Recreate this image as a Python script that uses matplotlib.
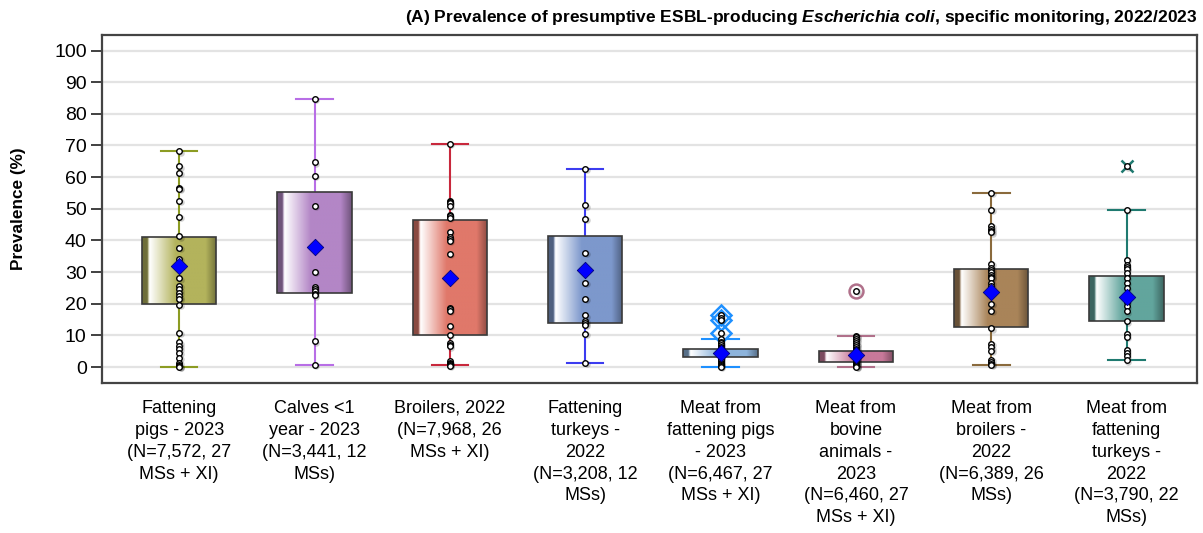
import numpy as np
import matplotlib.pyplot as plt
import matplotlib.colors as mcolors

plt.rcParams['font.family'] = ['Liberation Sans', 'DejaVu Sans']
plt.rcParams['mathtext.fontset'] = 'custom'
plt.rcParams['mathtext.it'] = 'Liberation Sans:italic:bold'
plt.rcParams['mathtext.rm'] = 'Liberation Sans:bold'

labels = [
    'Fattening\npigs - 2023\n(N=7,572, 27\nMSs + XI)',
    'Calves <1\nyear - 2023\n(N=3,441, 12\nMSs)',
    'Broilers, 2022\n(N=7,968, 26\nMSs + XI)',
    'Fattening\nturkeys -\n2022\n(N=3,208, 12\nMSs)',
    'Meat from\nfattening pigs\n- 2023\n(N=6,467, 27\nMSs + XI)',
    'Meat from\nbovine\nanimals -\n2023\n(N=6,460, 27\nMSs + XI)',
    'Meat from\nbroilers -\n2022\n(N=6,389, 26\nMSs)',
    'Meat from\nfattening\nturkeys -\n2022\n(N=3,790, 22\nMSs)',
]

# box statistics (prevalence, %)
q1 = [20.0, 23.4, 10.1, 13.9, 3.1, 1.5, 12.5, 14.6]
q3 = [41.2, 55.4, 46.5, 41.3, 5.7, 5.1, 30.9, 28.8]
whislo = [0.0, 0.7, 0.7, 1.3, 0.1, 0.1, 0.7, 2.1]
whishi = [68.1, 84.7, 70.5, 62.6, 8.8, 9.9, 55.1, 49.6]
means = [31.8, 37.9, 28.0, 30.5, 4.3, 3.9, 23.7, 22.0]
fliers = [[], [], [], [], [10.7, 14.8, 16.4], [24.1], [], [63.4]]

# country-level prevalences
pigs_pts = [68.1, 63.4, 61.3, 56.5, 56.2, 52.6, 47.4, 41.3, 37.6, 34.1, 32.5,
            28.0, 25.7, 24.5, 23.4, 22.3, 21.5, 19.7, 10.7, 7.8, 6.7, 5.7,
            4.4, 2.8, 1.3, 0.5, 0.2, 0.0]
calves_pts = [84.7, 64.7, 60.4, 50.9, 30.0, 25.3, 24.5, 23.9, 23.0, 22.6,
              8.1, 0.7]
broilers_pts = [70.5, 52.6, 52.0, 51.8, 50.9, 48.0, 47.8, 47.1, 42.7, 41.0,
                40.4, 39.8, 35.7, 18.8, 18.3, 17.8, 13.1, 10.1, 7.6, 7.0, 6.5,
                1.8, 1.3, 1.1, 0.9, 0.7, 0.4]
turkeys_pts = [62.6, 51.1, 46.9, 36.0, 26.6, 21.5, 16.3, 14.5, 13.9, 13.3,
               10.5, 1.3]
meat_pigs_pts = [16.4, 15.6, 14.8, 10.7, 8.8, 8.0, 7.5, 6.9, 6.4, 6.0, 5.7,
                 5.4, 5.1, 4.8, 4.5, 4.2, 3.9, 3.6, 3.3, 3.1, 2.7, 2.3, 1.8,
                 1.4, 1.0, 0.6, 0.3, 0.1]
meat_bovine_pts = [24.1, 9.9, 9.5, 8.9, 8.2, 7.5, 6.9, 6.3, 5.8, 5.3, 5.0,
                   4.6, 4.2, 3.9, 3.6, 3.3, 3.0, 2.7, 2.4, 2.1, 1.8, 1.5, 1.3,
                   1.0, 0.7, 0.4, 0.2, 0.0]
meat_broilers_pts = [55.1, 49.6, 44.6, 43.6, 43.0, 42.5, 32.5, 31.2, 30.5,
                     29.9, 29.0, 28.4, 28.1, 26.5, 25.5, 24.5, 19.9, 17.8,
                     12.2, 7.2, 6.2, 5.2, 2.3, 1.5, 1.0, 0.7]
meat_turkeys_pts = [63.4, 49.6, 33.9, 32.3, 31.5, 30.9, 29.7, 28.1, 26.7,
                    25.0, 22.3, 21.3, 20.5, 19.2, 17.6, 14.4, 10.5, 9.5, 5.5,
                    4.4, 3.5, 2.1]
points = [pigs_pts, calves_pts, broilers_pts, turkeys_pts, meat_pigs_pts,
          meat_bovine_pts, meat_broilers_pts, meat_turkeys_pts]

fill_colors = ['#b3b35c', '#b386c6', '#e0786a', '#7d98cc',
               '#8db4dc', '#c8799a', '#a98459', '#62a59d']
line_colors = ['#8c9c23', '#b86ee6', '#c8283c', '#3c3cf0',
               '#1e90ff', '#b0708a', '#8a6a3c', '#1f7a70']
flier_markers = ['o', 'o', 'o', 'o', 'D', 'o', 'o', 'x']

fig = plt.figure(figsize=(12.03, 5.33), dpi=100)
ax = fig.add_axes([0.0848, 0.2814, 0.9102, 0.6529])

pos = np.arange(1, len(labels) + 1)
width = 0.55


def gradient_image(color):
    base = np.array(mcolors.to_rgb(color))
    t = np.linspace(0, 1, 200)
    white = np.interp(t, [0, 0.07, 0.1, 0.45, 1.0], [0, 0, 1, 0, 0])
    dark = np.interp(t, [0, 0.07, 0.1, 0.85, 1.0], [0.62, 0.62, 1, 1, 0.62])
    rgb = (base[None, :] * dark[:, None]) * (1 - white[:, None]) + white[:, None]
    return rgb[None, :, :]


for i in range(len(labels)):
    stats = [dict(med=q1[i], q1=q1[i], q3=q3[i], whislo=whislo[i],
                  whishi=whishi[i], mean=means[i], fliers=fliers[i])]
    fm = flier_markers[i]
    bp = ax.bxp(stats, positions=[pos[i]], widths=width, capwidths=0.27,
                patch_artist=True, showmeans=False, showfliers=True,
                boxprops=dict(facecolor='none', edgecolor='#3a3a3a', lw=1.2),
                whiskerprops=dict(color=line_colors[i], lw=1.5),
                capprops=dict(color=line_colors[i], lw=1.5),
                medianprops=dict(lw=0),
                flierprops=dict(marker=fm, markerfacecolor='none',
                                markeredgecolor=line_colors[i],
                                markersize=10 if fm != 'x' else 9,
                                markeredgewidth=1.8),
                zorder=2)
    box = bp['boxes'][0]
    box.set_zorder(3)
    im = ax.imshow(gradient_image(fill_colors[i]), aspect='auto',
                   extent=(pos[i] - width / 2, pos[i] + width / 2, q1[i], q3[i]),
                   zorder=2.5, interpolation='bilinear')
    im.set_clip_path(box)

    ax.scatter(np.full(len(points[i]), pos[i]) + 0.012, np.array(points[i]) - 0.4,
               s=22, color='#000000', alpha=0.18, lw=0, zorder=3.5)
    ax.scatter(np.full(len(points[i]), pos[i]), points[i], s=16,
               facecolor='white', edgecolor='black', lw=1.0, zorder=4)
    ax.scatter([pos[i]], [means[i]], marker='D', s=70, color='#0000ff',
               edgecolor='#000080', lw=0.6, zorder=5)

ax.set_xlim(0.43, 8.52)
ax.set_ylim(-5.06, 104.9)
ax.set_yticks(np.arange(0, 101, 10))
ax.set_xticks(pos)
ax.set_xticklabels(labels, fontsize=13, linespacing=1.38, va='top')
ax.tick_params(axis='x', length=0, pad=12)
ax.tick_params(axis='y', labelsize=14, length=8, width=1.3, color='#333333',
               pad=3)
ax.yaxis.grid(True, color='#e3e3e3', lw=1.6)
ax.set_axisbelow(True)
for sp in ax.spines.values():
    sp.set_color('#444444')
    sp.set_linewidth(1.6)

ax.set_ylabel('Prevalence (%)', fontsize=12.4, fontweight='bold')
ax.yaxis.set_label_coords(-0.069, 0.5)

fig.text(0.995, 0.967,
         r'(A) Prevalence of presumptive ESBL-producing '
         r'$\mathit{Escherichia\ coli}$, specific monitoring, 2022/2023',
         ha='right', va='center', fontsize=12.5, fontweight='bold')

fig.savefig('out.png', dpi=100)
